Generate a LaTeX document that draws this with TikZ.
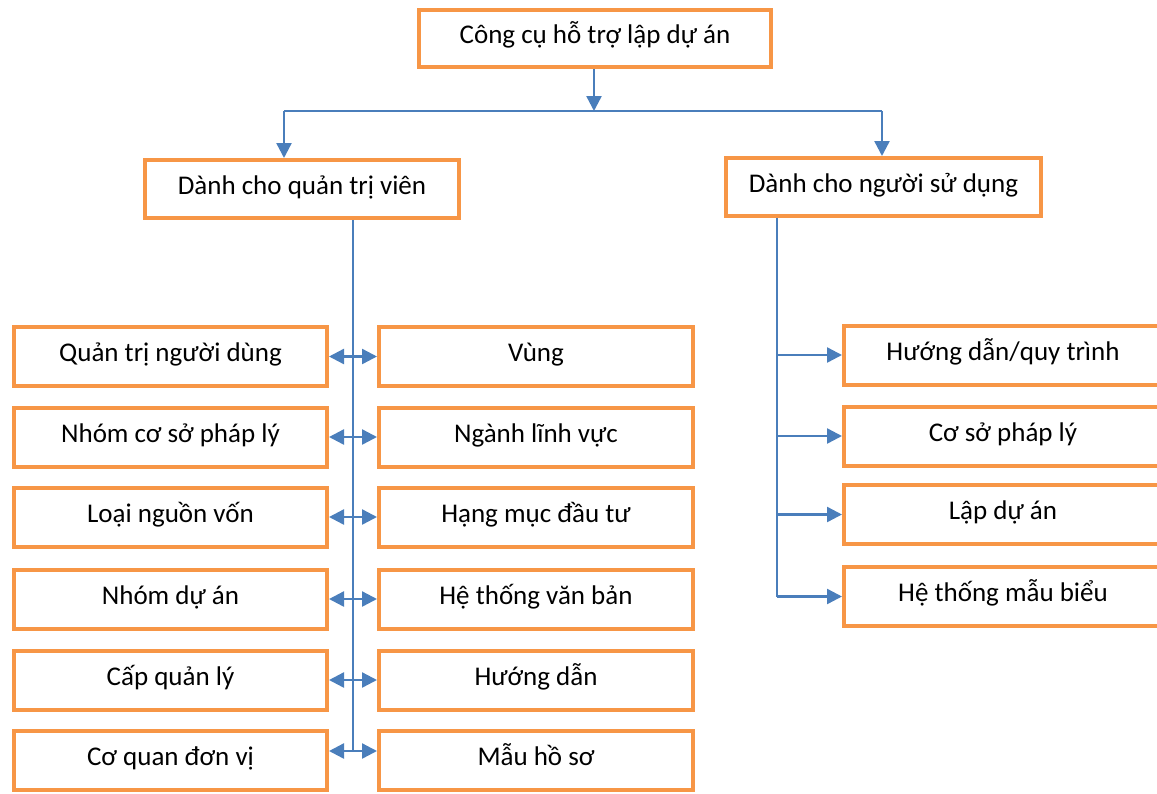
\documentclass[tikz,border=0pt]{standalone}
\usepackage{fontspec}
\setmainfont{Carlito}
\usetikzlibrary{arrows.meta,calc}
\definecolor{boxorange}{HTML}{F79646}
\definecolor{lineblue}{HTML}{4A7EBB}
\begin{document}
\begin{tikzpicture}[x=1pt,y=-1pt,
  box/.style={draw=boxorange,line width=4pt,fill=white,rectangle,inner sep=0pt,
    text height=17pt,text depth=7pt,
    font=\fontsize{27}{30}\selectfont},
  conn/.style={draw=lineblue,line width=2.4pt},
  tip/.style={-{Triangle[width=15pt,length=15pt]}},
  dtip/.style={{Triangle[width=15pt,length=15pt]}-{Triangle[width=15pt,length=15pt]}}]
\useasboundingbox (0,0) rectangle (1157,793);
\clip (0,0) rectangle (1157,793);
% top
\node[box,minimum width=352pt,minimum height=57pt] (top) at (595,38.5) {Công cụ hỗ trợ lập dự án};
\node[box,minimum width=314pt,minimum height=58pt] (adm) at (302,189) {Dành cho quản trị viên};
\node[box,minimum width=315pt,minimum height=58pt] (usr) at (883.5,187) {Dành cho người sử dụng};
% left columns
\foreach \n/\y/\a/\b in {1/356.5/{Quản trị người dùng}/{Vùng},
  2/437/{Nhóm cơ sở pháp lý}/{Ngành lĩnh vực},
  3/517/{Loại nguồn vốn}/{Hạng mục đầu tư},
  4/599/{Nhóm dự án}/{Hệ thống văn bản},
  5/680/{Cấp quản lý}/{Hướng dẫn},
  6/760/{Cơ quan đơn vị}/{Mẫu hồ sơ}}{
  \node[box,minimum width=313pt,minimum height=59pt] (L\n) at (170.5,\y) {\a};
  \node[box,minimum width=314pt,minimum height=59pt] (R\n) at (536,\y) {\b};
}
% right column
\foreach \n/\y/\a in {1/355/{Hướng dẫn/quy trình},
  2/436/{Cơ sở pháp lý},
  3/514.5/{Lập dự án},
  4/596.5/{Hệ thống mẫu biểu}}{
  \node[box,minimum width=318pt,minimum height=59pt] (U\n) at (1003,\y) {\a};
}
% top connectors
\coordinate (bus) at (594,111);
\coordinate (busL) at (284,111);
\coordinate (busR) at (882,111);
\draw[conn,tip] (top.south -| bus) -- (bus);
\draw[conn] (busL) -- (busR);
\draw[conn,tip] (busL) -- (busL |- adm.north);
\draw[conn,tip] (busR) -- (busR |- usr.north);
% left trunk
\coordinate (mL) at ($(L1.east)!0.5!(R1.west)$);
\draw[conn] (adm.south -| mL) -- ($(mL |- L6.east)+(0,-9)$);
\foreach \n in {1,...,5}{
  \draw[conn,dtip] (L\n.east) -- (R\n.west);
}
\draw[conn,dtip] ([yshift=9pt]L6.east) -- ([yshift=9pt]R6.west);
% right trunk
\coordinate (tR) at (777,216);
\draw[conn] (tR |- usr.south) -- ($(tR |- U4.west)$);
\foreach \n in {1,...,4}{
  \draw[conn,tip] (tR |- U\n.west) -- (U\n.west);
}
\end{tikzpicture}
\end{document}
